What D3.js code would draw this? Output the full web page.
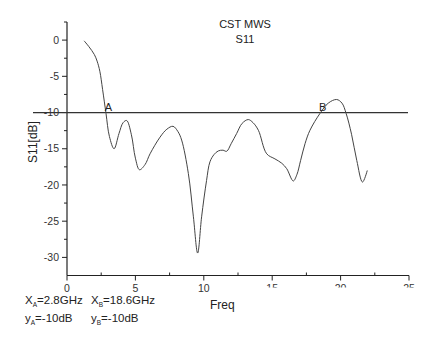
<!DOCTYPE html>
<html>
<head>
<meta charset="utf-8">
<script src="https://cdn.jsdelivr.net/npm/d3@7/dist/d3.min.js"></script>
<style>
  html, body { margin: 0; padding: 0; background: #fff; }
  svg { display: block; font-family: "Liberation Sans", Arial, sans-serif; }
</style>
</head>
<body>
<svg id="chart" width="432" height="337"></svg>
<script>
// S11 response (frequency in GHz, magnitude in dB)
const freq = [1.25, 1.6, 2.0, 2.2, 2.4, 2.6, 2.85, 3.1, 3.44, 3.8, 4.1, 4.36, 4.7, 5.0, 5.3, 5.7, 6.07, 6.8, 7.3, 7.75, 8.1, 8.38, 8.87, 9.24, 9.55, 9.84, 10.2, 10.45, 10.75, 11.06, 11.4, 11.67, 12.0, 12.4, 12.8, 13.25, 13.6, 13.99, 14.6, 15.2, 15.7, 16.06, 16.54, 16.8, 17.08, 17.4, 17.76, 18.5, 19.1, 19.71, 20.1, 20.4, 20.8, 21.18, 21.6, 21.95];
const s11  = [-0.1, -0.9, -2.0, -2.9, -4.3, -6.8, -10.1, -13.3, -15.0, -12.9, -11.4, -11.1, -13.0, -16.3, -17.9, -17.2, -15.7, -13.4, -12.3, -11.9, -12.6, -13.8, -18.4, -24.4, -29.4, -24.4, -19.4, -16.8, -15.8, -15.3, -15.2, -15.35, -14.3, -12.9, -11.5, -10.97, -11.4, -12.45, -15.7, -16.4, -17.0, -17.75, -19.45, -18.6, -16.6, -14.3, -12.45, -10.1, -8.7, -8.2, -8.7, -10.1, -13.0, -16.6, -19.6, -18.0];

const xTicks = [0, 5, 10, 15, 20, 25];
const yTicks = [0, -5, -10, -15, -20, -25, -30];
const xMinor = [2.5, 7.5, 12.5, 17.5, 22.5];
const yMinor = [2.5, -2.5, -7.5, -12.5, -17.5, -22.5, -27.5];
const refLevel = -10;
const markers = [{name: "A", f: 2.8}, {name: "B", f: 18.6}];
const titleLines = ["CST MWS", "S11"];
const notes = [
  [{t: "X", s: "A", v: "=2.8GHz"}, {t: "X", s: "B", v: "=18.6GHz"}],
  [{t: "y", s: "A", v: "=-10dB"}, {t: "y", s: "B", v: "=-10dB"}]
];

const svg = d3.select("#chart");
const x = d3.scaleLinear().domain([0, 25]).range([67, 409]);
const y = d3.scaleLinear().domain([2.5, -32.5]).range([22, 275.5]);
const ink = "#222";

// clip for the cut-off upper tick labels (axis-group coordinates)
svg.append("clipPath").attr("id", "lblclip")
  .append("rect").attr("x", 245).attr("y", -10).attr("width", 190).attr("height", 22);

// x axis
const gx = svg.append("g").attr("transform", `translate(0,${y(-32.5)})`);
gx.append("line").attr("x1", x(0)).attr("x2", x(25)).attr("stroke", ink).attr("stroke-width", 1.2);
gx.selectAll(".maj").data(xTicks).join("line")
  .attr("x1", d => x(d)).attr("x2", d => x(d)).attr("y1", 0).attr("y2", 5)
  .attr("stroke", ink).attr("stroke-width", 1);
gx.selectAll(".min").data(xMinor).join("line")
  .attr("x1", d => x(d)).attr("x2", d => x(d)).attr("y1", -3).attr("y2", 0)
  .attr("stroke", ink).attr("stroke-width", 1);
gx.selectAll("text").data(xTicks).join("text")
  .attr("x", d => x(d)).attr("y", 16).attr("text-anchor", "middle")
  .attr("font-size", 10.5).attr("fill", "#333")
  .attr("clip-path", d => d >= 15 ? "url(#lblclip)" : null)
  .text(d => d);

// y axis
const gy = svg.append("g").attr("transform", `translate(${x(0)},0)`);
gy.append("line").attr("y1", y(2.5)).attr("y2", y(-32.5)).attr("stroke", ink).attr("stroke-width", 1.2);
gy.selectAll(".maj").data(yTicks).join("line")
  .attr("y1", d => y(d)).attr("y2", d => y(d)).attr("x1", -5).attr("x2", 0)
  .attr("stroke", ink).attr("stroke-width", 1);
gy.selectAll(".min").data(yMinor).join("line")
  .attr("y1", d => y(d)).attr("y2", d => y(d)).attr("x1", -3).attr("x2", 0)
  .attr("stroke", ink).attr("stroke-width", 1);
gy.selectAll("text").data(yTicks).join("text")
  .attr("x", -8).attr("y", d => y(d)).attr("dy", "0.35em").attr("text-anchor", "end")
  .attr("font-size", 10.5).attr("fill", "#333")
  .text(d => d);

// reference level line
svg.append("line")
  .attr("x1", 33).attr("x2", 408).attr("y1", y(refLevel)).attr("y2", y(refLevel))
  .attr("stroke", "#333").attr("stroke-width", 1.3);

// S11 curve
const pts = freq.map((f, i) => [f, s11[i]]);
svg.append("path").datum(pts)
  .attr("fill", "none").attr("stroke", "#444").attr("stroke-width", 1)
  .attr("d", d3.line().x(d => x(d[0])).y(d => y(d[1])).curve(d3.curveCatmullRom.alpha(0.5)));

// marker labels
svg.selectAll(".mk").data(markers).join("text")
  .attr("x", d => x(d.f) - 0.5 + (d.name === "B" ? -2 : 0)).attr("y", y(refLevel) - 2)
  .attr("font-size", 11).attr("fill", "#222")
  .text(d => d.name);

// title
svg.selectAll(".ttl").data(titleLines).join("text")
  .attr("x", 245).attr("y", (d, i) => 28 + i * 15).attr("text-anchor", "middle")
  .attr("font-size", 11).attr("fill", "#222").text(d => d);

// axis titles
svg.append("text").attr("transform", "translate(37,142) rotate(-90)")
  .attr("text-anchor", "middle").attr("font-size", 12).attr("fill", "#222").text("S11[dB]");
svg.append("text").attr("x", 210).attr("y", 309)
  .attr("font-size", 12).attr("fill", "#222").text("Freq");

// marker readouts
const colX = [25, 91];
notes.forEach((row, r) => {
  row.forEach((n, c) => {
    const t = svg.append("text").attr("x", colX[c]).attr("y", 304 + r * 18)
      .attr("font-size", 11.5).attr("fill", "#222");
    t.append("tspan").text(n.t);
    t.append("tspan").attr("font-size", 6.5).attr("dy", 3).text(n.s);
    t.append("tspan").attr("dy", -3).text(n.v);
  });
});
</script>
</body>
</html>
